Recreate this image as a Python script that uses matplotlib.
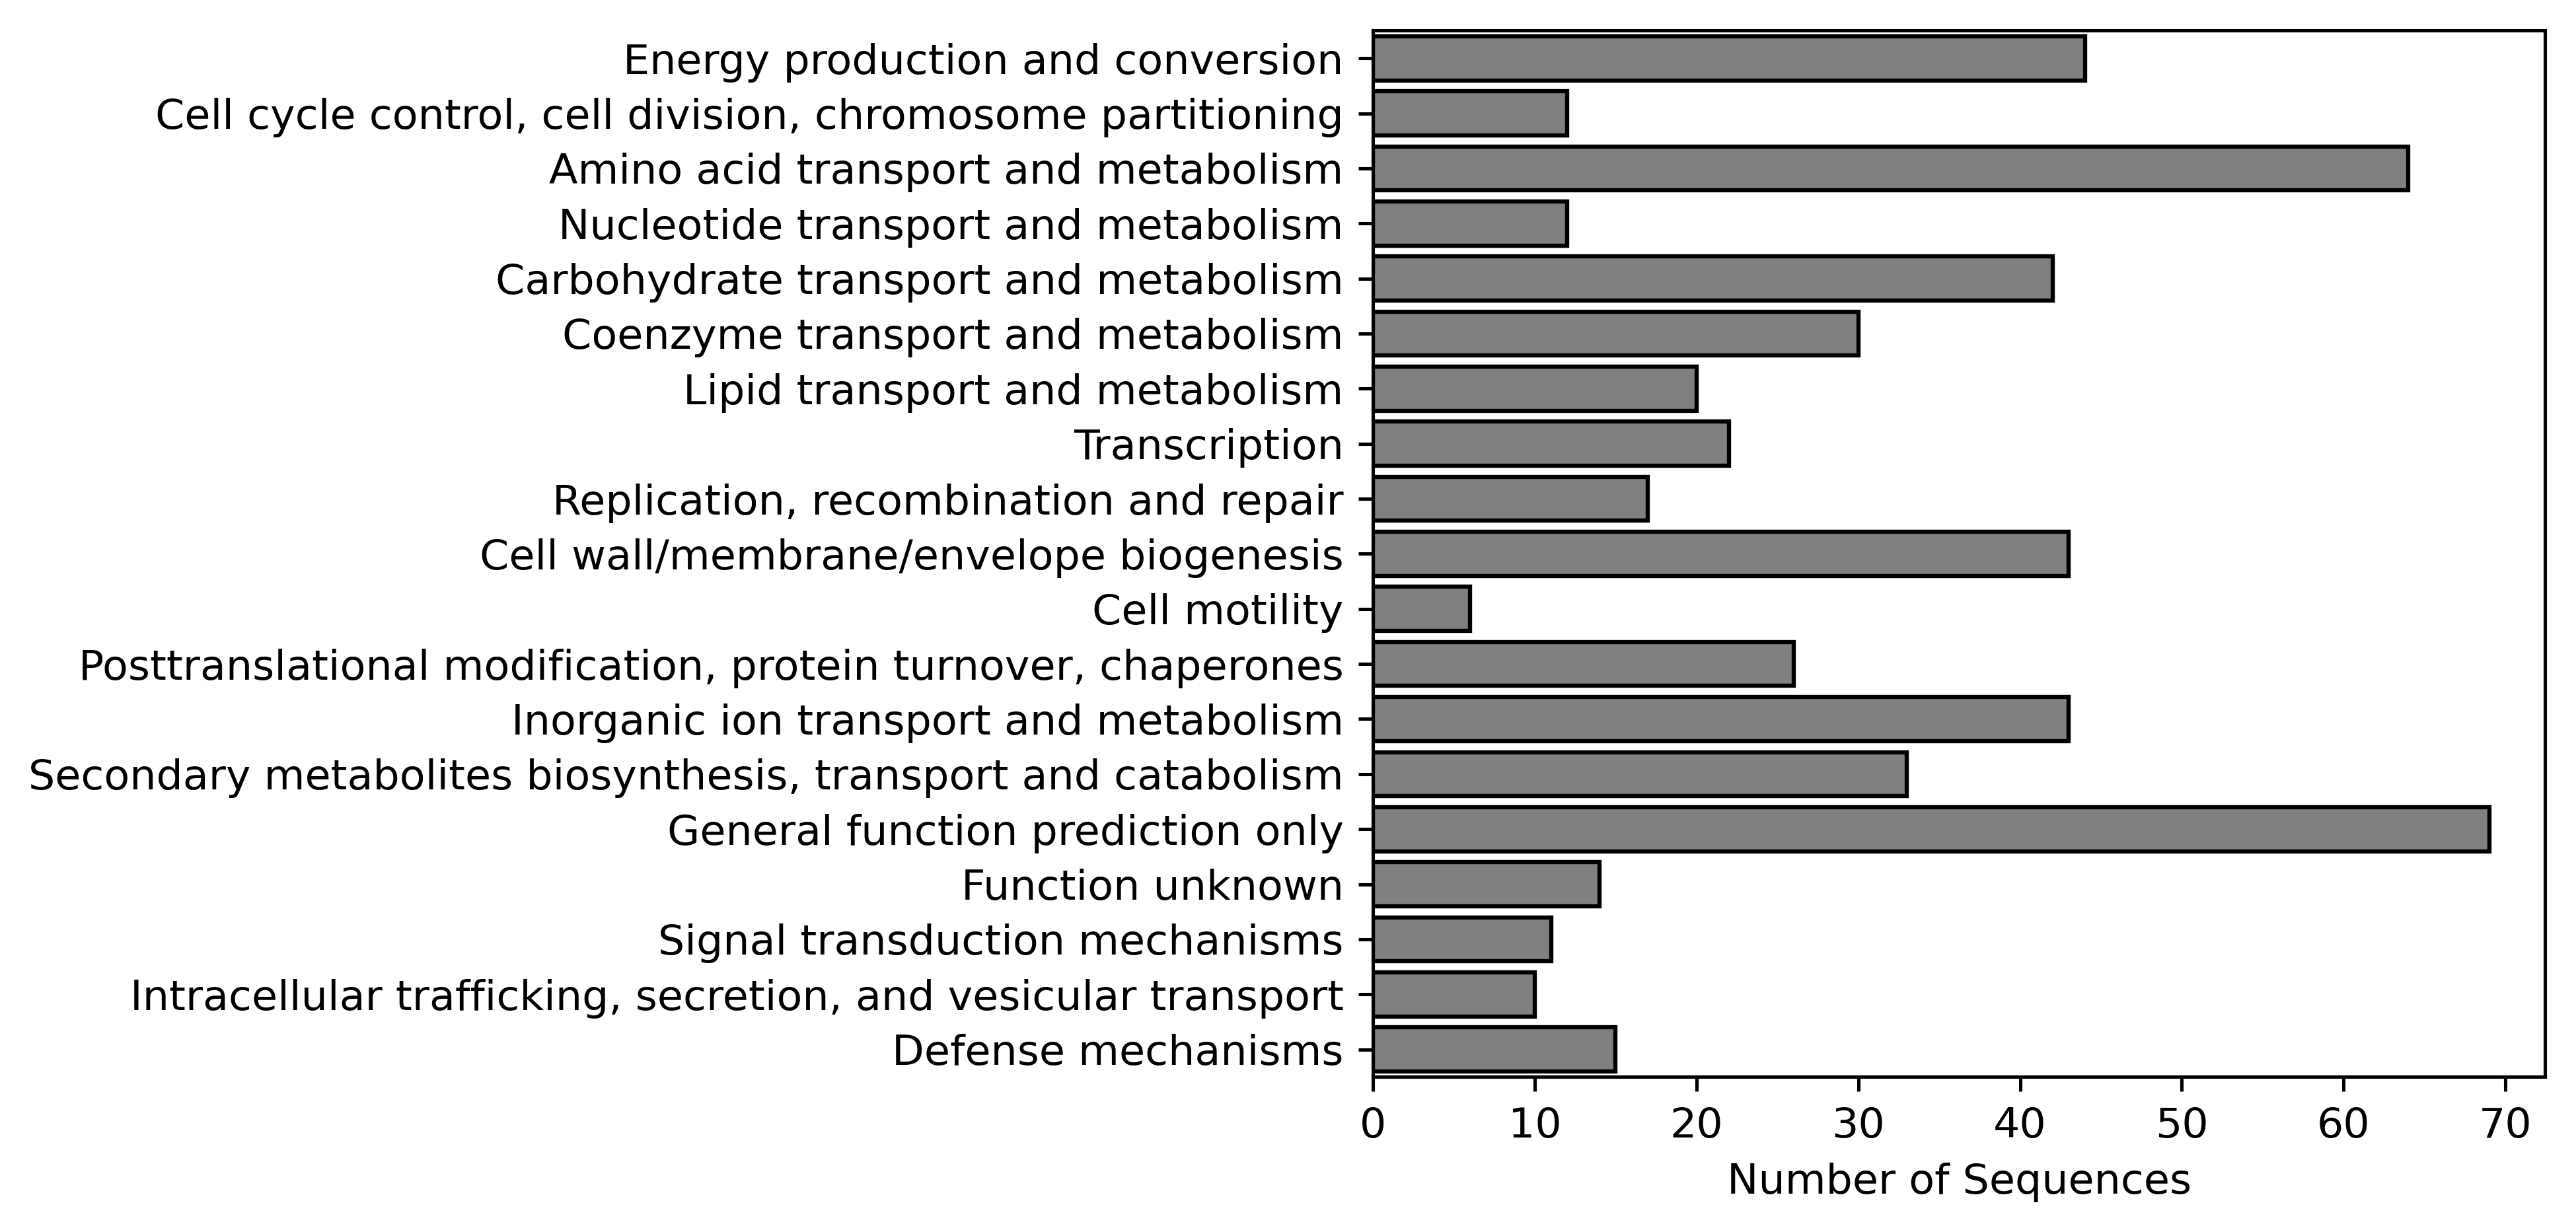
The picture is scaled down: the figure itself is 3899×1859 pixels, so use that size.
import matplotlib
matplotlib.use("Agg")
import matplotlib.pyplot as plt

categories = [
    "Energy production and conversion",
    "Cell cycle control, cell division, chromosome partitioning",
    "Amino acid transport and metabolism",
    "Nucleotide transport and metabolism",
    "Carbohydrate transport and metabolism",
    "Coenzyme transport and metabolism",
    "Lipid transport and metabolism",
    "Transcription",
    "Replication, recombination and repair",
    "Cell wall/membrane/envelope biogenesis",
    "Cell motility",
    "Posttranslational modification, protein turnover, chaperones",
    "Inorganic ion transport and metabolism",
    "Secondary metabolites biosynthesis, transport and catabolism",
    "General function prediction only",
    "Function unknown",
    "Signal transduction mechanisms",
    "Intracellular trafficking, secretion, and vesicular transport",
    "Defense mechanisms",
]
counts = [44, 12, 64, 12, 42, 30, 20, 22, 17, 43, 6, 26, 43, 33, 69, 14, 11, 10, 15]

dpi = 457
fig = plt.figure(figsize=(3899 / dpi, 1859 / dpi), dpi=dpi)
ax = fig.add_axes([0.533, 0.123, 0.455, 0.852])

pos = list(range(len(categories)))
ax.barh(pos, counts, height=0.8, color="#808080", edgecolor="black", linewidth=1.0)
ax.set_yticks(pos)
ax.set_yticklabels(categories)
ax.set_ylim(len(categories) - 0.5, -0.5)
ax.set_xlim(0, max(counts) * 1.05)
ax.set_xlabel("Number of Sequences")

fig.savefig("out.png", dpi=dpi)
